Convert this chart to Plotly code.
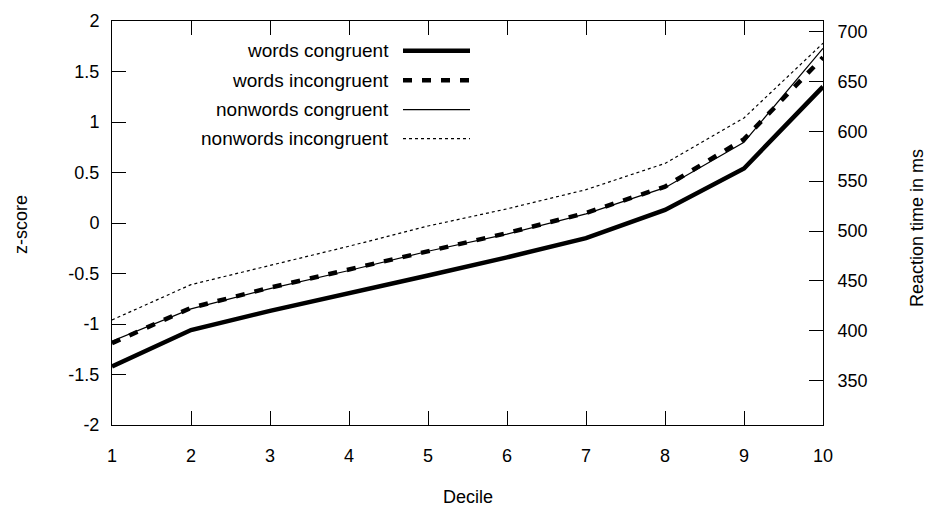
import plotly.graph_objects as go

deciles = [1, 2, 3, 4, 5, 6, 7, 8, 9, 10]
words_congruent = [-1.42, -1.06, -0.87, -0.70, -0.52, -0.34, -0.15, 0.13, 0.54, 1.35]
words_incongruent = [-1.19, -0.84, -0.64, -0.46, -0.27, -0.10, 0.10, 0.36, 0.83, 1.64]
nonwords_congruent = [-1.17, -0.85, -0.65, -0.47, -0.28, -0.11, 0.09, 0.35, 0.80, 1.73]
nonwords_incongruent = [-0.96, -0.61, -0.42, -0.23, -0.03, 0.14, 0.33, 0.59, 1.04, 1.78]

z_ticks = [-2, -1.5, -1, -0.5, 0, 0.5, 1, 1.5, 2]
z_labels = ["-2", "-1.5", "-1", "-0.5", "0", "0.5", "1", "1.5", "2"]
ms_ticks = [350, 400, 450, 500, 550, 600, 650, 700]

series = [
    ("words congruent", words_congruent, 4.5, "solid"),
    ("words incongruent", words_incongruent, 4.5, "9px,10px"),
    ("nonwords congruent", nonwords_congruent, 1.2, "solid"),
    ("nonwords incongruent", nonwords_incongruent, 1.2, "3px,3px"),
]

FONT = "Liberation Sans, Arial, sans-serif"
W, H = 926, 507
L, R, T, B = 112, 103, 21, 82
pw, ph = W - L - R, H - T - B

fig = go.Figure()
for name, vals, w, dash in series:
    fig.add_trace(go.Scatter(x=deciles, y=vals, mode="lines", name=name,
                             line=dict(color="black", width=w, dash=dash),
                             showlegend=False))
fig.add_trace(go.Scatter(x=[None], y=[None], yaxis="y2", showlegend=False))

def px_x(p):
    return (p - L) / pw

def px_y(p):
    return (H - B - p) / ph

# custom legend (text on the left, sample line on the right)
leg_rows = [50.7, 80.3, 109.6, 138.6]
shapes = []
annotations = []
for (name, vals, w, dash), yy in zip(series, leg_rows):
    annotations.append(dict(x=px_x(391), y=px_y(yy), xref="paper", yref="paper",
                            text=name, showarrow=False, xanchor="right", yanchor="middle",
                            font=dict(family=FONT, size=19, color="black")))
    shapes.append(dict(type="line", xref="paper", yref="paper",
                       x0=px_x(403), x1=px_x(470), y0=px_y(yy), y1=px_y(yy),
                       line=dict(color="black", width=w, dash=dash)))

annotations.append(dict(x=0.5, y=px_y(497), xref="paper", yref="paper", text="Decile",
                        showarrow=False, xanchor="center", yanchor="middle",
                        font=dict(family=FONT, size=18, color="black")))
annotations.append(dict(x=px_x(21), y=px_y(225), xref="paper", yref="paper", text="z-score",
                        showarrow=False, xanchor="center", yanchor="middle", textangle=-90,
                        font=dict(family=FONT, size=18, color="black")))
annotations.append(dict(x=px_x(917), y=px_y(228), xref="paper", yref="paper",
                        text="Reaction time in ms",
                        showarrow=False, xanchor="center", yanchor="middle", textangle=-90,
                        font=dict(family=FONT, size=18, color="black")))

axis_common = dict(showgrid=False, zeroline=False, showline=True, linecolor="black",
                   linewidth=1, ticks="inside", ticklen=14, tickcolor="black", tickwidth=1,
                   tickfont=dict(family=FONT, size=18, color="black"))

fig.update_layout(
    width=W, height=H,
    margin=dict(l=L, r=R, t=T, b=B),
    paper_bgcolor="white", plot_bgcolor="white",
    font=dict(family=FONT, size=18, color="black"),
    xaxis=dict(range=[1, 10], tickvals=deciles, mirror="ticks",
               ticklabelstandoff=14, **axis_common),
    yaxis=dict(range=[-2, 2], tickvals=z_ticks, ticktext=z_labels,
               ticklabelstandoff=8, **axis_common),
    yaxis2=dict(range=[305.7, 710.5], tickvals=ms_ticks, overlaying="y", side="right",
                anchor="x", ticklabelstandoff=10, **axis_common),
    shapes=shapes,
    annotations=annotations,
    showlegend=False,
)

fig.write_html("out.html")
